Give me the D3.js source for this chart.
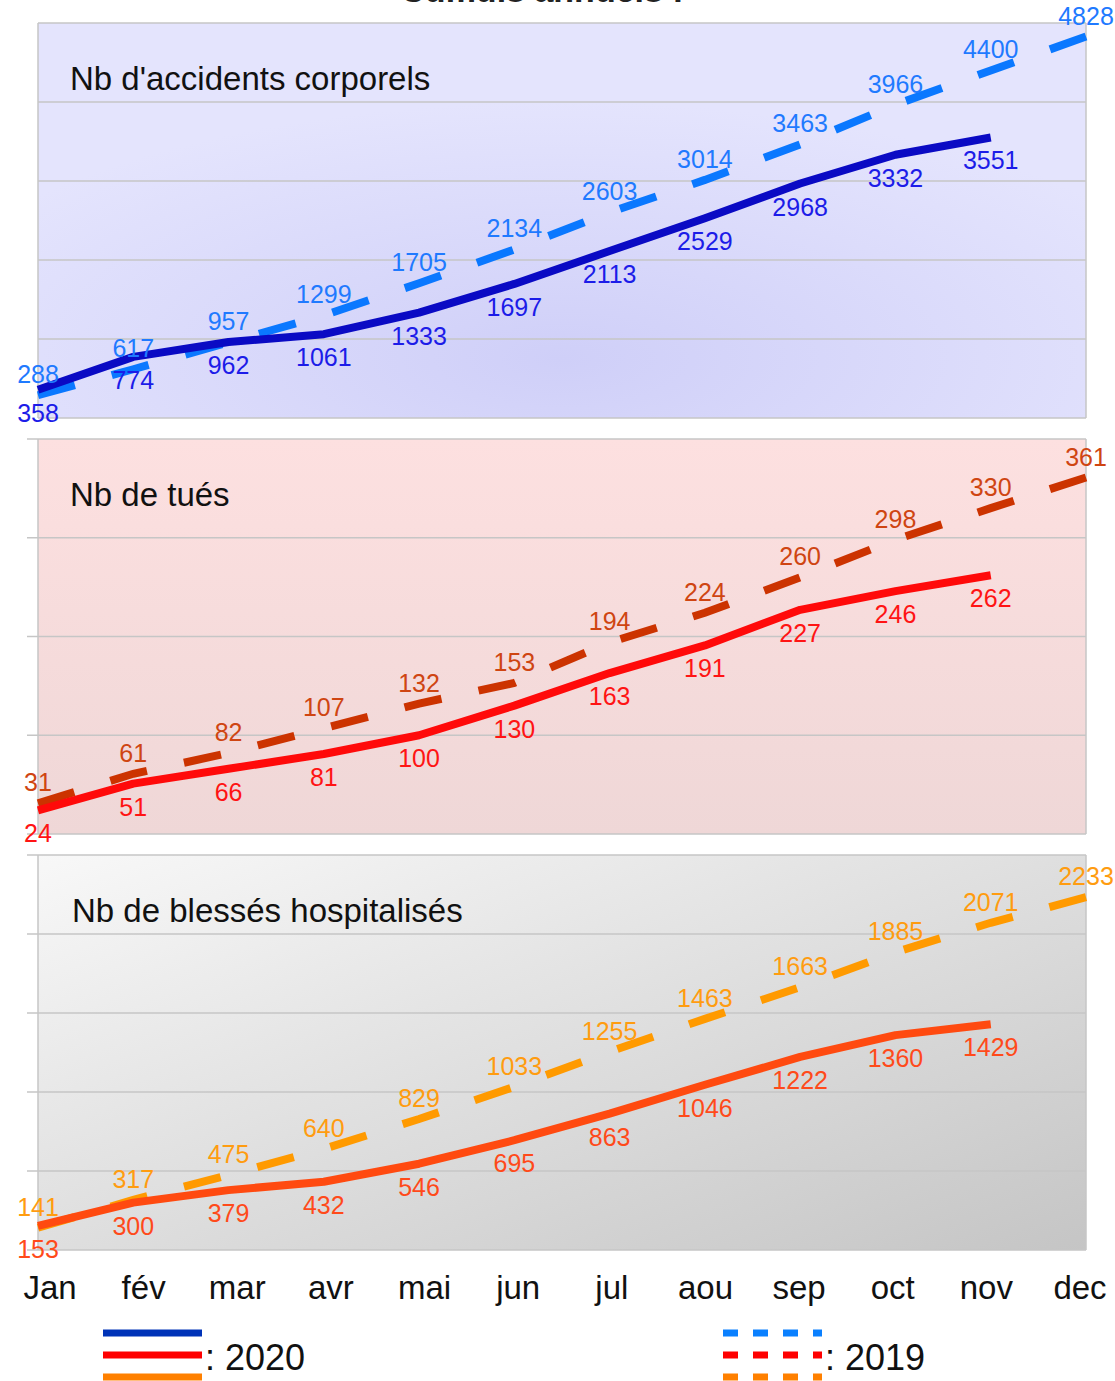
<!DOCTYPE html>
<html>
<head>
<meta charset="utf-8">
<script src="https://cdn.jsdelivr.net/npm/d3@7"></script>
<style>
  body { margin: 0; background: #ffffff; }
  svg { display: block; font-family: "Liberation Sans", Arial, sans-serif; }
</style>
</head>
<body>
<svg id="graph" width="1115" height="1381"></svg>
<script>
// ---------------- données ----------------
var mois = ["Jan", "fév", "mar", "avr", "mai", "jun", "jul", "aou", "sep", "oct", "nov", "dec"];

var accidents2020 = [358, 774, 962, 1061, 1333, 1697, 2113, 2529, 2968, 3332, 3551];
var accidents2019 = [288, 617, 957, 1299, 1705, 2134, 2603, 3014, 3463, 3966, 4400, 4828];

var tues2020 = [24, 51, 66, 81, 100, 130, 163, 191, 227, 246, 262];
var tues2019 = [31, 61, 82, 107, 132, 153, 194, 224, 260, 298, 330, 361];

var blesses2020 = [153, 300, 379, 432, 546, 695, 863, 1046, 1222, 1360, 1429];
var blesses2019 = [141, 317, 475, 640, 829, 1033, 1255, 1463, 1663, 1885, 2071, 2233];

var titres = ["Nb d'accidents corporels", "Nb de tués", "Nb de blessés hospitalisés"];
var maxima = [5000, 400, 2500];
var pas = [1000, 100, 500];
var annees = ["2020", "2019"];

// ---------------- mise en page ----------------
var svg = d3.select("#graph");
var gauche = 38, droite = 1086;
var hauteurPanneau = 395;
var hautsPanneaux = [23, 439, 855];

var x = d3.scalePoint().domain(mois).range([gauche, droite]);
var xMois = d3.scalePoint().domain(mois).range([50, 1080]);

var defs = svg.append("defs");

var g1 = defs.append("radialGradient").attr("id", "fond0")
    .attr("cx", "50%").attr("cy", "85%").attr("r", "65%");
g1.append("stop").attr("offset", "0%").attr("stop-color", "#cfcff8");
g1.append("stop").attr("offset", "100%").attr("stop-color", "#e4e4fd");

var g2 = defs.append("linearGradient").attr("id", "fond1")
    .attr("x1", 0).attr("y1", 0).attr("x2", 0).attr("y2", 1);
g2.append("stop").attr("offset", "0%").attr("stop-color", "#fde0e0");
g2.append("stop").attr("offset", "100%").attr("stop-color", "#efd7d7");

var g3 = defs.append("linearGradient").attr("id", "fond2")
    .attr("x1", 0).attr("y1", 0).attr("x2", 1).attr("y2", 1);
g3.append("stop").attr("offset", "0%").attr("stop-color", "#f8f8f8");
g3.append("stop").attr("offset", "100%").attr("stop-color", "#c5c5c5");

// couleurs : [trait 2020, étiquette 2020, trait 2019, étiquette 2019]
var couleurs = [
    ["#0a0ac4", "#1c1ce8", "#0a78ff", "#1f7aff"],
    ["#ff0a0a", "#ff1414", "#cc3300", "#cf4512"],
    ["#ff4a10", "#ff4a1a", "#ff9a00", "#ff9c10"]
];

var series = [
    [accidents2020, accidents2019],
    [tues2020, tues2019],
    [blesses2020, blesses2019]
];

// titre général (coupé en haut de l'image)
svg.append("text")
    .attr("x", 542).attr("y", 2)
    .attr("text-anchor", "middle")
    .attr("font-size", 34).attr("font-weight", "bold")
    .attr("fill", "#222")
    .text("Cumuls annuels :");

//------------------- un panneau par indicateur -------------------
function dessinerPanneau(p) {
    var haut = hautsPanneaux[p];
    var bas = haut + hauteurPanneau;
    var y = d3.scaleLinear().domain([0, maxima[p]]).range([bas, haut]);
    var g = svg.append("g");

    g.append("rect")
        .attr("x", gauche).attr("y", haut)
        .attr("width", droite - gauche).attr("height", hauteurPanneau)
        .attr("fill", "url(#fond" + p + ")");

    // grille (et petits traits à gauche sauf pour le premier panneau)
    var graduations = d3.range(0, maxima[p] + pas[p] / 2, pas[p]);
    g.selectAll(".grille").data(graduations).enter().append("line")
        .attr("x1", p == 0 ? gauche : 27).attr("x2", droite)
        .attr("y1", function(d) { return y(d); })
        .attr("y2", function(d) { return y(d); })
        .attr("stroke", "#c6c6c6").attr("stroke-width", 1.5);

    g.append("line")
        .attr("x1", gauche).attr("x2", gauche).attr("y1", haut).attr("y2", bas)
        .attr("stroke", "#c6c6c6").attr("stroke-width", 1.5);
    g.append("line")
        .attr("x1", droite).attr("x2", droite).attr("y1", haut).attr("y2", bas)
        .attr("stroke", "#c6c6c6").attr("stroke-width", 1.5);

    g.append("text")
        .attr("x", p == 2 ? 72 : 70).attr("y", haut + 67)
        .attr("font-size", 33).attr("fill", "#111")
        .text(titres[p]);

    var ligne = d3.line()
        .x(function(d, i) { return x(mois[i]); })
        .y(function(d) { return y(d); });

    var c = couleurs[p];
    var s2020 = series[p][0], s2019 = series[p][1];

    // 2019 en pointillés, dessous ; tirets ajustés pour finir pleins aux deux bouts
    var tirets = g.append("path")
        .attr("d", ligne(s2019))
        .attr("fill", "none").attr("stroke", c[2])
        .attr("stroke-width", 8);
    var L = tirets.node().getTotalLength();
    var n = Math.round((L / 37 - 1) / 2);
    var t = L / (2 * n + 1);
    tirets.attr("stroke-dasharray", t + "," + t);

    g.append("path")
        .attr("d", ligne(s2020))
        .attr("fill", "none").attr("stroke", c[0])
        .attr("stroke-width", 8).attr("stroke-linejoin", "round");

    // étiquettes : 2019 au-dessus, 2020 en dessous
    g.selectAll(".e2019").data(s2019).enter().append("text")
        .attr("x", function(d, i) { return x(mois[i]); })
        .attr("y", function(d) { return y(d) - 12; })
        .attr("text-anchor", "middle").attr("font-size", 25)
        .attr("fill", c[3])
        .text(function(d) { return d; });

    g.selectAll(".e2020").data(s2020).enter().append("text")
        .attr("x", function(d, i) { return x(mois[i]); })
        .attr("y", function(d) { return y(d) + 32; })
        .attr("text-anchor", "middle").attr("font-size", 25)
        .attr("fill", c[1])
        .text(function(d) { return d; });
}

for (var p = 0; p < 3; p++) {
    dessinerPanneau(p);
}

// mois sous le dernier panneau
svg.selectAll(".mois").data(mois).enter().append("text")
    .attr("x", function(d) { return xMois(d); })
    .attr("y", 1299)
    .attr("text-anchor", "middle").attr("font-size", 33).attr("fill", "#111")
    .text(function(d) { return d; });

//------------------- légende -------------------
var couleursLegende2020 = ["#0033b8", "#ff0000", "#ff8000"];
var couleursLegende2019 = ["#0a80ff", "#ff0000", "#ff8000"];
var yLegende = [1333, 1355, 1377];

couleursLegende2020.forEach(function(col, i) {
    svg.append("line")
        .attr("x1", 103).attr("x2", 202)
        .attr("y1", yLegende[i]).attr("y2", yLegende[i])
        .attr("stroke", col).attr("stroke-width", 7);
});
couleursLegende2019.forEach(function(col, i) {
    svg.append("line")
        .attr("x1", 723).attr("x2", 822)
        .attr("y1", yLegende[i]).attr("y2", yLegende[i])
        .attr("stroke", col).attr("stroke-width", 7)
        .attr("stroke-dasharray", "15,15");
});

svg.append("text").attr("x", 205).attr("y", 1370)
    .attr("font-size", 36).attr("fill", "#111").text(": " + annees[0]);
svg.append("text").attr("x", 825).attr("y", 1370)
    .attr("font-size", 36).attr("fill", "#111").text(": " + annees[1]);
</script>
</body>
</html>
